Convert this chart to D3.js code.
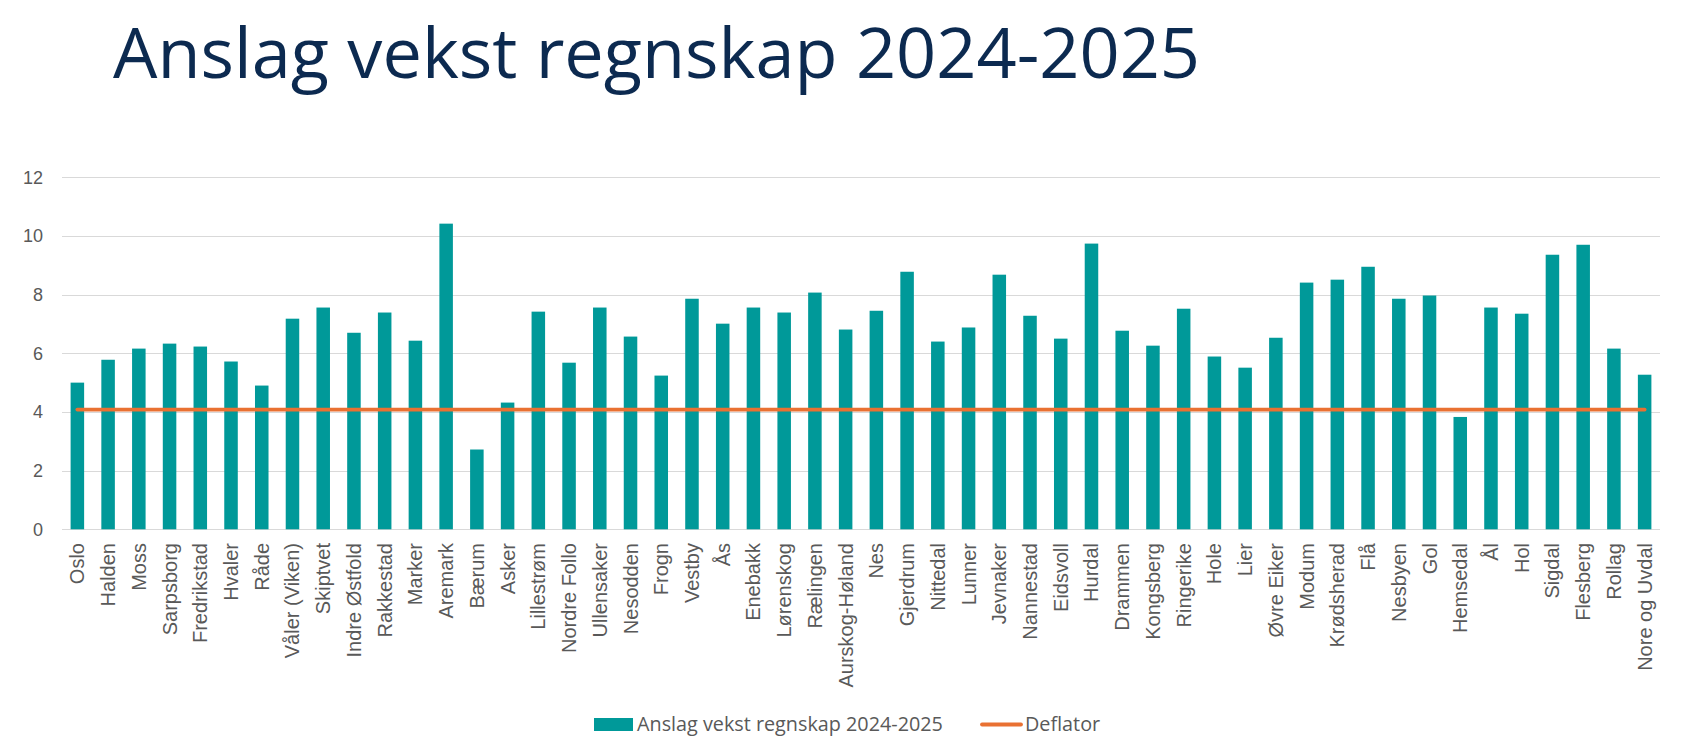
<!DOCTYPE html>
<html lang="no">
<meta charset="UTF-8">
<title>Anslag vekst regnskap 2024-2025</title>
<script src="https://d3js.org/d3.v7.min.js"></script>
<style>
  body { margin: 0; background: #fff; }
  .tick-y { font-family: "Liberation Sans", Arial, sans-serif; font-size: 18px; fill: #595959; }
  .tick-x { font-family: "Liberation Sans", Arial, sans-serif; font-size: 20px; fill: #595959; }
  .legend { font-family: "Open Sans", sans-serif; font-size: 19.8px; fill: #595959; }
</style>
<body>
<svg id="chart" width="1701" height="752"></svg>
<script>
// kommuner (x-akse)
var kommuner = ["Oslo", "Halden", "Moss", "Sarpsborg", "Fredrikstad", "Hvaler", "Råde",
  "Våler (Viken)", "Skiptvet", "Indre Østfold", "Rakkestad", "Marker", "Aremark", "Bærum",
  "Asker", "Lillestrøm", "Nordre Follo", "Ullensaker", "Nesodden", "Frogn", "Vestby", "Ås",
  "Enebakk", "Lørenskog", "Rælingen", "Aurskog-Høland", "Nes", "Gjerdrum", "Nittedal",
  "Lunner", "Jevnaker", "Nannestad", "Eidsvoll", "Hurdal", "Drammen", "Kongsberg",
  "Ringerike", "Hole", "Lier", "Øvre Eiker", "Modum", "Krødsherad", "Flå", "Nesbyen", "Gol",
  "Hemsedal", "Ål", "Hol", "Sigdal", "Flesberg", "Rollag", "Nore og Uvdal"];

// Anslag vekst regnskap 2024-2025 (prosent)
var vekst = [5.0, 5.78, 6.16, 6.33, 6.23, 5.72, 4.9,
  7.18, 7.56, 6.7, 7.39, 6.43, 10.42, 2.72,
  4.32, 7.42, 5.68, 7.56, 6.57, 5.24, 7.86, 7.01,
  7.56, 7.39, 8.07, 6.81, 7.45, 8.78, 6.4,
  6.88, 8.68, 7.28, 6.5, 9.74, 6.77, 6.26,
  7.52, 5.89, 5.51, 6.53, 8.41, 8.51, 8.95, 7.86, 7.97,
  3.83, 7.56, 7.35, 9.36, 9.7, 6.16, 5.27];

// deflator, samme verdi for alle
var deflator = kommuner.map(() => 4.08);

var yTicks = [0, 2, 4, 6, 8, 10, 12];

var svg = d3.select("#chart");
svg.append("rect").attr("width", 1701).attr("height", 752).attr("fill", "#fff");

var x = d3.scaleBand()
  .domain(kommuner)
  .range([62, 1660])
  .paddingInner(0.56)
  .paddingOuter(0.28);

var y = d3.scaleLinear()
  .domain([0, 12])
  .range([529.3, 177.3]);

// title
svg.append("text")
  .attr("x", 113)
  .attr("y", 78)
  .style("font-family", '"Open Sans", sans-serif')
  .style("font-size", "70.3px")
  .style("fill", "#0C2A50")
  .text("Anslag vekst regnskap 2024-2025");

// gridlines
svg.append("g").selectAll("line")
  .data(yTicks)
  .enter().append("line")
    .attr("x1", 62).attr("x2", 1660)
    .attr("y1", d => Math.round(y(d)) + 0.5)
    .attr("y2", d => Math.round(y(d)) + 0.5)
    .attr("stroke", "#d9d9d9")
    .attr("stroke-width", 1.2);

// y labels
svg.append("g").selectAll("text")
  .data(yTicks)
  .enter().append("text")
    .attr("class", "tick-y")
    .attr("x", 43)
    .attr("y", d => y(d))
    .attr("dy", "0.35em")
    .attr("text-anchor", "end")
    .text(d => d);

// bars
svg.append("g").selectAll("rect")
  .data(vekst)
  .enter().append("rect")
    .attr("x", (d, i) => x(kommuner[i]))
    .attr("width", x.bandwidth())
    .attr("y", d => y(d))
    .attr("height", d => y(0) - y(d))
    .attr("fill", "#009999");

// deflator line
var line = d3.line()
  .x((d, i) => x(kommuner[i]) + x.bandwidth() / 2)
  .y(d => y(d));

svg.append("path")
  .datum(deflator)
  .attr("d", line)
  .attr("fill", "none")
  .attr("stroke", "#E97132")
  .attr("stroke-width", 3.8)
  .attr("stroke-linecap", "round");

// x labels (rotated)
svg.append("g").selectAll("text")
  .data(kommuner)
  .enter().append("text")
    .attr("class", "tick-x")
    .attr("text-anchor", "end")
    .attr("dy", "0.35em")
    .attr("transform", d => `translate(${x(d) + x.bandwidth() / 2},543) rotate(-90)`)
    .text(d => d);

// legend
var lg = svg.append("g");
lg.append("rect")
  .attr("x", 594).attr("y", 718)
  .attr("width", 39).attr("height", 13)
  .attr("fill", "#009999");
lg.append("text")
  .attr("class", "legend")
  .attr("x", 637).attr("y", 724.5)
  .attr("dy", "0.35em")
  .text("Anslag vekst regnskap 2024-2025");
lg.append("line")
  .attr("x1", 982).attr("x2", 1021)
  .attr("y1", 724.5).attr("y2", 724.5)
  .attr("stroke", "#E97132")
  .attr("stroke-width", 3.8)
  .attr("stroke-linecap", "round");
lg.append("text")
  .attr("class", "legend")
  .attr("x", 1025).attr("y", 724.5)
  .attr("dy", "0.35em")
  .text("Deflator");
</script>
</body>
</html>
